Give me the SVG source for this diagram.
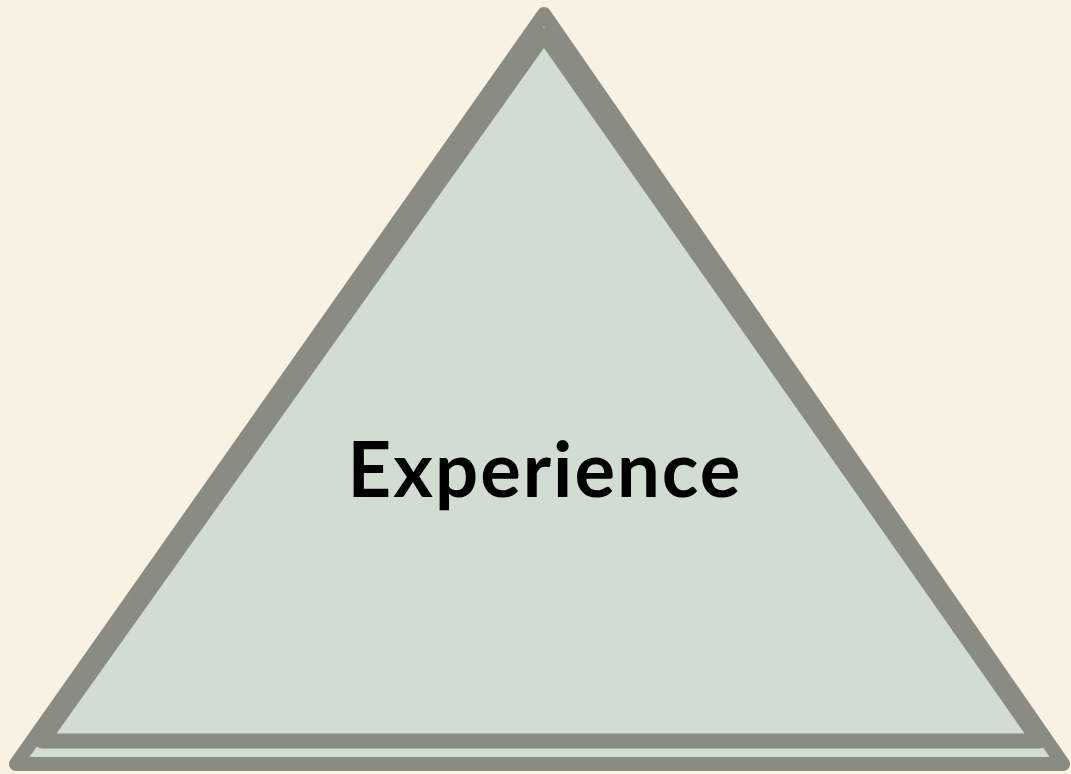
<svg xmlns="http://www.w3.org/2000/svg" width="1071" height="774" viewBox="0 0 1071 774">
<style>
.outer{fill:#d1dcd3;stroke:#8a8b83;stroke-width:14;stroke-linejoin:round;stroke-linecap:round}
.inner{fill:none;stroke:#8a8b83;stroke-width:15;stroke-linejoin:round;stroke-linecap:round}
.label{font-family:Lato,"Open Sans",sans-serif;font-weight:bold;font-size:76px;letter-spacing:2px;fill:#000}
</style>
<rect width="1071" height="774" fill="#f9f1e1"/>
<g id="experience">
<polygon class="outer" points="544,14 1063,764 16,764"/>
<polygon class="inner" points="544,35 1039,741 42,741"/>
<text class="label" x="545" y="497" text-anchor="middle">Experience</text>
</g>
</svg>
